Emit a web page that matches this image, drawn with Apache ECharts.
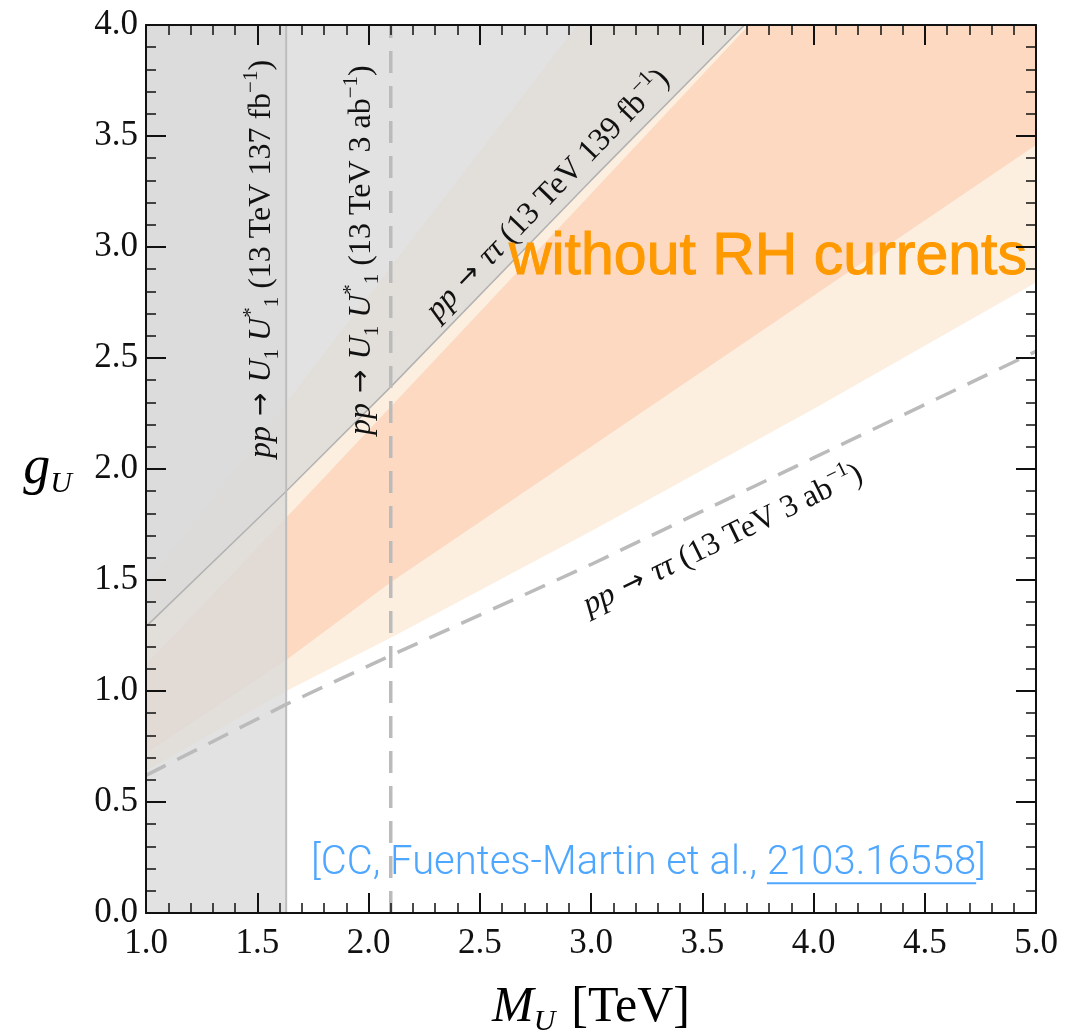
<!DOCTYPE html>
<html>
<head>
<meta charset="utf-8">
<title>Leptoquark U1 limits: g_U vs M_U</title>
<script src="https://cdn.jsdelivr.net/npm/echarts@6.0.0/dist/echarts.min.js"></script>
<style>
  html, body { margin: 0; padding: 0; background: #fff; }
  #chart { width: 1079px; height: 1033px; }
</style>
</head>
<body>
<div id="chart"></div>
<script>
// preferred region without RH currents (M_U in TeV -> g_U)
var bandMass   = [1.0, 1.63, 2.1, 3.0, 4.0, 5.0];
var beigeLow   = [0.64, 1.00, 1.24, 1.72, 2.27, 2.84];
var beigeHigh  = [1.48, 2.30, 2.91, 4.08, 5.38, 6.68];
var orangeLow  = [0.72, 1.14, 1.49, 2.10, 2.78, 3.46];
var orangeHigh = [1.12, 1.78, 2.28, 3.24, 4.31, 5.38];

// pp -> tau tau : 139 fb^-1 limit (solid) and 3 ab^-1 projection (dashed)
var tautauMass   = [1.0, 1.63, 2.1, 3.0, 3.69];
var tautauNow    = [1.29, 1.90, 2.37, 3.30, 4.0];
var tautauHLMass = [1.0, 1.63, 2.1, 3.0, 4.0, 5.0];
var tautauHL     = [0.62, 0.94, 1.16, 1.57, 2.05, 2.53];

// pair production bounds on M_U
var pairNow = 1.63;
var pairHL = 2.1;

var xRange = [1.0, 5.0];
var yRange = [0.0, 4.0];
var tickStep = 0.5;

function zip(xs, ys) {
    return xs.map(function (x, i) { return [x, ys[i]]; });
}

var beigePoly = zip(bandMass, beigeLow).concat(zip(bandMass, beigeHigh).reverse());
var orangePoly = zip(bandMass, orangeLow).concat(zip(bandMass, orangeHigh).reverse());
var pairPoly = [[xRange[0], yRange[0]], [pairNow, yRange[0]], [pairNow, yRange[1]], [xRange[0], yRange[1]]];
var tautauPoly = zip(tautauMass, tautauNow).concat([[xRange[0], yRange[1]]]);

var GRAY = 'rgba(218,218,218,0.78)';

function area(name, pts, color, z) {
    return {
        type: 'custom',
        name: name,
        silent: true,
        z: z,
        data: [0],
        renderItem: function (params, api) {
            var cs = params.coordSys;
            return {
                type: 'polygon',
                shape: { points: pts.map(function (p) { return api.coord(p); }) },
                style: { fill: color },
                clipPath: { type: 'rect', shape: { x: cs.x, y: cs.y, width: cs.width, height: cs.height } }
            };
        }
    };
}

function curve(name, data, color, width, type, z) {
    return {
        type: 'line',
        name: name,
        data: data,
        symbol: 'none',
        silent: true,
        z: z,
        lineStyle: { color: color, width: width, type: type }
    };
}

var tickLabel = { fontFamily: 'Liberation Serif', fontSize: 35, color: '#111' };

function axisCommon(pos, showLabel, extra) {
    var a = {
        type: 'value',
        position: pos,
        interval: tickStep,
        z: 30,
        axisLine: { show: true, onZero: false, lineStyle: { color: '#111', width: 2 } },
        axisTick: { show: true, inside: true, length: 20, lineStyle: { color: '#111', width: 2 } },
        minorTick: { show: true, splitNumber: 5, length: 10, lineStyle: { color: '#111', width: 1.5 } },
        splitLine: { show: false },
        minorSplitLine: { show: false },
        axisLabel: Object.assign({ show: showLabel, formatter: function (v) { return v.toFixed(1); } }, tickLabel)
    };
    return Object.assign(a, extra);
}

var chart = echarts.init(document.getElementById('chart'));

chart.setOption({
    animation: false,
    backgroundColor: '#fff',
    grid: { left: 146, right: 43, top: 25, bottom: 120, containLabel: false, outerBoundsMode: 'none' },
    xAxis: [
        axisCommon('bottom', true, {
            min: xRange[0], max: xRange[1],
            axisLabel: Object.assign({ margin: 13, formatter: function (v) { return v.toFixed(1); } }, tickLabel),
            name: '{m|M}{s|U}{r|[TeV]}',
            nameLocation: 'middle',
            nameGap: 66,
            nameTextStyle: {
                rich: {
                    m: { fontFamily: 'Liberation Serif', fontStyle: 'italic', fontSize: 50, lineHeight: 58, color: '#000' },
                    s: { fontFamily: 'Liberation Serif', fontStyle: 'italic', fontSize: 30, lineHeight: 38, verticalAlign: 'bottom', color: '#000' },
                    r: { fontFamily: 'Liberation Serif', fontSize: 50, lineHeight: 58, color: '#000', padding: [0, 0, 0, 16] }
                }
            }
        }),
        axisCommon('top', false, { min: xRange[0], max: xRange[1] })
    ],
    yAxis: [
        axisCommon('left', true, {
            min: yRange[0], max: yRange[1],
            axisLabel: Object.assign({ margin: 8, formatter: function (v) { return v.toFixed(1); } }, tickLabel),
            name: '{g|g}{s|U}',
            nameLocation: 'middle',
            nameRotate: 0,
            nameGap: 74,
            nameTextStyle: {
                rich: {
                    g: { fontFamily: 'Liberation Serif', fontStyle: 'italic', fontSize: 54, lineHeight: 60, color: '#000' },
                    s: { fontFamily: 'Liberation Serif', fontStyle: 'italic', fontSize: 30, lineHeight: 40, verticalAlign: 'bottom', color: '#000' }
                }
            }
        }),
        axisCommon('right', false, { min: yRange[0], max: yRange[1] })
    ],
    series: [
        area('beige band', beigePoly, '#fcefdf', 1),
        area('orange band', orangePoly, '#fdd9c1', 2),
        area('pair production 137 fb-1', pairPoly, GRAY, 3),
        area('tautau 139 fb-1', tautauPoly, GRAY, 4),
        curve('tautau 139 fb-1 line', zip(tautauMass, tautauNow), '#b2b2b2', 1.5, 'solid', 5),
        curve('pair 137 fb-1 line', [[pairNow, yRange[0]], [pairNow, yRange[1]]], '#bdbdbd', 2, 'solid', 5),
        curve('tautau 3 ab-1', zip(tautauHLMass, tautauHL), '#bbbbbb', 3.5, [22, 13], 6),
        curve('pair 3 ab-1', [[pairHL, yRange[0]], [pairHL, yRange[1]]], '#bbbbbb', 3.5, [22, 13], 6)
    ]
});

// annotations, anchored in data coordinates
function px(p) { return chart.convertToPixel({ gridIndex: 0 }, p); }

var serif = 'Liberation Serif';
var labelRich = {
    i: { fontFamily: serif, fontStyle: 'italic', fontSize: 32, lineHeight: 42, fill: '#111' },
    a: { fontFamily: 'DejaVu Sans', fontSize: 28, lineHeight: 42, fill: '#111', padding: [0, 10, 0, 10] },
    sub: { fontFamily: serif, fontSize: 21, lineHeight: 28, verticalAlign: 'bottom', fill: '#111' },
    sup: { fontFamily: serif, fontSize: 21, lineHeight: 28, verticalAlign: 'top', fill: '#111' }
};

function label(text, at, deg) {
    var p = px(at);
    return {
        type: 'text', x: p[0], y: p[1], rotation: deg * Math.PI / 180, silent: true, z: 20,
        style: {
            text: text, rich: labelRich, fontFamily: serif, fontSize: 32, lineHeight: 42,
            fill: '#111', align: 'center', verticalAlign: 'middle'
        }
    };
}

var cmsText = '{i|pp}{a|→}{i|U}{sub|1}{i| U}{sup|*}{sub|1} (13 TeV 137 fb{sup|−1})';
var hlPairText = '{i|pp}{a|→}{i|U}{sub|1}{i| U}{sup|*}{sub|1} (13 TeV 3 ab{sup|−1})';
var tauNowText = '{i|pp}{a|→}{i|ττ} (13 TeV 139 fb{sup|−1})';
var tauHLText = '{i|pp}{a|→}{i|ττ} (13 TeV 3 ab{sup|−1})';

var citeLead = '[CC, Fuentes-Martin et al., ';
var citeLink = '2103.16558';
var citeFont = '300 40px Roboto';
var citeAt = px([1.742, 0.22]);
var ctx = document.createElement('canvas').getContext('2d');
ctx.font = citeFont;
var leadW = ctx.measureText(citeLead).width;
var linkW = ctx.measureText(citeLink).width;

var headAt = px([2.631, 2.95]);

chart.setOption({
    graphic: [
        label(cmsText, [1.521, 2.946], 90),
        label(hlPairText, [1.971, 2.986], 90),
        label(tauNowText, [2.807, 3.234], 46),
        label(tauHLText, [3.593, 1.68], 26),
        {
            type: 'text', x: headAt[0], y: headAt[1], silent: true, z: 20,
            style: {
                text: 'without RH currents', fontFamily: 'Liberation Sans', fontSize: 59,
                fill: '#ff9900', stroke: '#ff9900', lineWidth: 1,
                align: 'left', verticalAlign: 'middle'
            }
        },
        {
            type: 'text', x: citeAt[0], y: citeAt[1], silent: true, z: 20,
            style: {
                text: citeLead + citeLink + ']', font: citeFont,
                fill: '#4da6ff', align: 'left', verticalAlign: 'middle'
            }
        },
        {
            type: 'line', silent: true, z: 20,
            shape: { x1: citeAt[0] + leadW, y1: citeAt[1] + 19, x2: citeAt[0] + leadW + linkW, y2: citeAt[1] + 19 },
            style: { stroke: '#4da6ff', lineWidth: 2 }
        }
    ]
});
</script>
</body>
</html>
